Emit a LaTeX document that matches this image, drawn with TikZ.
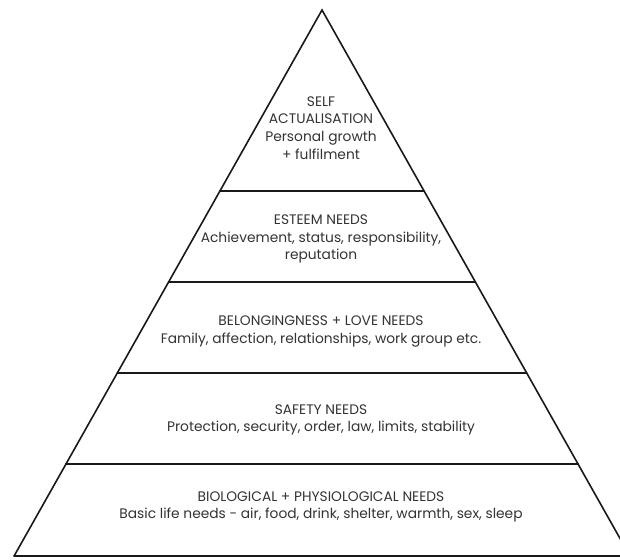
\documentclass[tikz,border=0pt]{standalone}
\usepackage{fontspec}
\setmainfont{Poppins}
\begin{document}
\begin{tikzpicture}[x=1pt,y=-1pt,
  edge/.style={line width=1.6pt,draw=black!90,line cap=round,line join=miter},
  tier/.style={align=center,text=black!80,font=\fontsize{13.8}{17.8}\selectfont,inner sep=0pt}]
\useasboundingbox (0,0) rectangle (620,559);
\clip (0,0) rectangle (620,559);
% pyramid corners
\coordinate (A) at (322,10);
\coordinate (BL) at (14.1,556);
\coordinate (BR) at (629.9,556);
\coordinate (E) at (640,556);
\coordinate (L1) at (219.9,191); \coordinate (R1) at (424.1,191);
\coordinate (L2) at (168.6,282); \coordinate (R2) at (475.4,282);
\coordinate (L3) at (117.3,373); \coordinate (R3) at (526.7,373);
\coordinate (L4) at (65.9,464);  \coordinate (R4) at (578.1,464);
\draw[edge] (BL) -- (A) -- (BR);
\draw[edge] (BL) -- (E);
\draw[edge] (L1) -- (R1);
\draw[edge] (L2) -- (R2);
\draw[edge] (L3) -- (R3);
\draw[edge] (L4) -- (R4);
% texts
\node[tier] (t1) at (321,128) {SELF\\ACTUALISATION\\Personal growth\\+ fulfilment};
\node[tier] (t2) at (321,239) {ESTEEM NEEDS\\Achievement, status, responsibility,\\reputation};
\node[tier] (t3) at (321,331.5) {BELONGINGNESS + LOVE NEEDS\\Family, affection, relationships, work group etc.};
\node[tier] (t4) at (321,420) {SAFETY NEEDS\\Protection, security, order, law, limits, stability};
\node[tier] (t5) at (321,507) {BIOLOGICAL + PHYSIOLOGICAL NEEDS\\Basic life needs - air, food, drink, shelter, warmth, sex, sleep};
\end{tikzpicture}
\end{document}
